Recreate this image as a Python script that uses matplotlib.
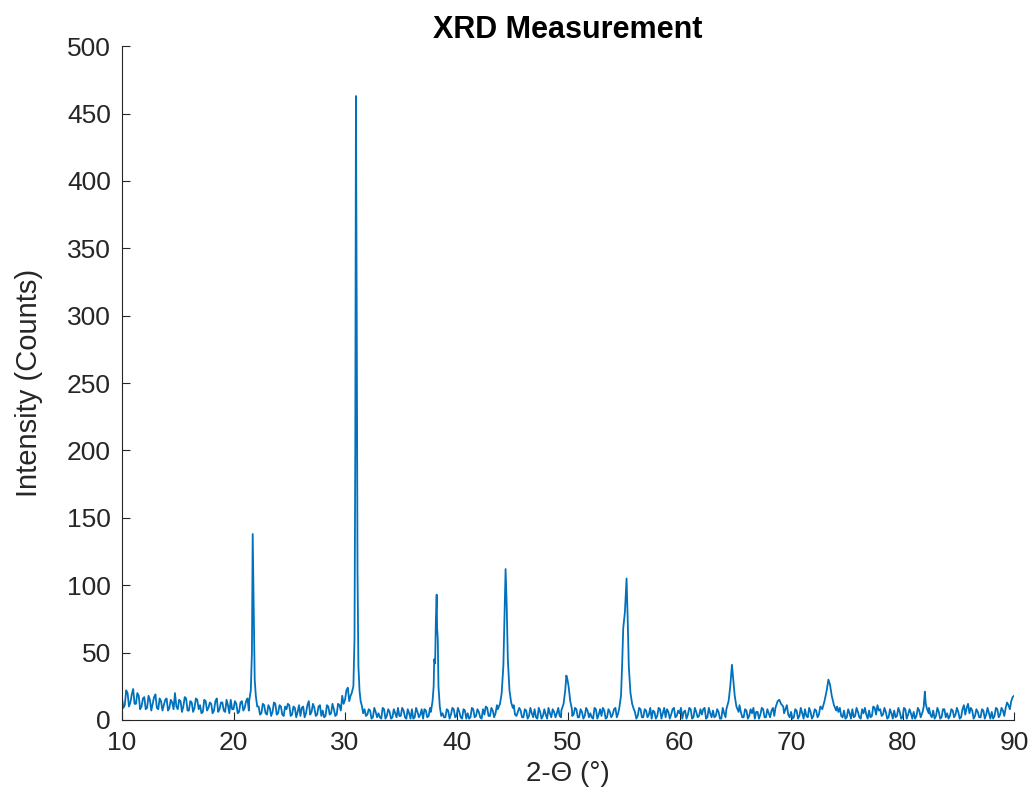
import numpy as np
import matplotlib
matplotlib.use("Agg")
import matplotlib.pyplot as plt

# ---- data ----
# background: values at 0.25 deg steps from 10.0 to 90.0 (hand-read, noisy band)
base_start = 10.0
base_step = 0.25
base_counts = [
    16, 11, 20, 13,   23, 12, 18, 10,   17, 9, 15, 12,   19, 8, 14, 11,   # 10-13
    16, 9, 13, 20,    8, 14, 10, 16,    7, 13, 9, 15,    11, 6, 14, 9,    # 14-17
    12, 7, 16, 8,     13, 6, 11, 15,    8, 12, 6, 14,    9, 16, 10, 12,   # 18-21
    13, 10, 5, 11,    4, 9, 6, 12,      5, 10, 3, 8,     11, 4, 9, 6,     # 22-25
    3, 10, 5, 14,     6, 9, 4, 11,      7, 3, 10, 5,     8, 4, 11, 18,    # 26-29
    15, 24, 18, 22,   20, 21, 11, 8,    4, 7, 2, 6,      5, 1, 8, 3,      # 30-33
    6, 2, 5, 9,       3, 7, 1, 5,       8, 2, 6, 4,      1, 7, 3, 5,      # 34-37
    6, 5, 7, 5,       2, 7, 4, 8,       3, 6, 1, 7,      5, 2, 8, 3,      # 38-41
    6, 1, 4, 9,       3, 7, 5, 10,      9, 10, 11, 8,    8, 4, 6, 7,      # 42-45
    2, 7, 3, 5,       8, 1, 6, 3,       4, 9, 2, 6,      5, 3, 8, 6,      # 46-49
    6, 7, 4, 8,       2, 6, 3, 7,       5, 1, 8, 4,      3, 7, 2, 6,      # 50-53
    4, 9, 5, 7,       8, 9, 10, 11,     6, 3, 8, 2,      7, 4, 1, 6,      # 54-57
    3, 8, 5, 2,       6, 4, 9, 3,       5, 1, 7, 4,      8, 2, 6, 3,      # 58-61
    4, 9, 2, 5,       7, 3, 6, 1,       5, 8, 7, 9,      10, 8, 6, 2,     # 62-65
    7, 3, 5, 1,       6, 4, 8, 2,       5, 7, 3, 10,     11, 10, 8, 4,    # 66-69
    6, 2, 7, 3,       5, 8, 2, 6,       3, 7, 4, 9,      10, 11, 12, 10,  # 70-73
    6, 6, 3, 7,       2, 5, 8, 3,       6, 1, 5, 4,      7, 3, 9, 11,     # 74-77
    8, 4, 6, 2,       5, 7, 3, 6,       2, 8, 4, 5,      6, 3, 7, 5,      # 78-81
    8, 9, 4, 7,       3, 6, 2, 8,       5, 3, 7, 4,      6, 2, 11, 9,     # 82-85
    5, 7, 3, 6,       2, 7, 4, 5,       6, 3, 8, 4,      7, 9, 11, 14,    # 86-89
    18,                                                                      # 90
]
# background: in-between samples at 10.125, 10.375, ... 89.875
mid_start = 10.125
mid_counts = [
    9, 22, 10, 19,    12, 20, 8, 16,    8, 18, 7, 17,    9, 16, 7, 15,    # 10-13
    7, 15, 8, 10,     15, 6, 17, 7,     14, 6, 16, 8,    5, 15, 7, 13,    # 14-17
    5, 14, 6, 13,     7, 15, 5, 8,      14, 5, 13, 7,    14, 7, 10, 10,   # 18-21
    10, 4, 12, 5,     11, 3, 13, 4,     11, 4, 10, 12,   3, 10, 2, 11,    # 22-25
    9, 2, 11, 4,      12, 3, 10, 3,     2, 11, 4, 12,    3, 12, 7, 12,    # 26-29
    22, 14, 25, 20,   10, 10, 5, 3,     8, 1, 9, 2,      2, 9, 1, 8,      # 30-33
    1, 8, 2, 3,       9, 2, 8, 1,       1, 9, 2, 8,      8, 2, 9, 10,     # 34-37
    10, 10, 3, 2,     8, 1, 9, 2,       9, 2, 8, 1,      1, 9, 2, 8,      # 38-41
    2, 8, 10, 3,      9, 2, 11, 10,     10, 10, 10, 10,  11, 3, 9, 2,     # 42-45
    8, 1, 9, 2,       2, 9, 1, 8,       1, 5, 8, 2,      9, 2, 10, 10,    # 46-49
    10, 3, 9, 2,      8, 1, 9, 2,       2, 9, 1, 8,      9, 1, 8, 2,      # 50-53
    8, 2, 10, 10,     10, 10, 10, 10,   1, 9, 2, 8,      2, 9, 7, 1,      # 54-57
    9, 1, 9, 8,       1, 8, 2, 7,       9, 6, 1, 9,      1, 9, 2, 8,      # 58-61
    8, 1, 9, 2,       2, 8, 1, 9,       2, 10, 10, 10,   10, 11, 2, 8,    # 62-65
    1, 8, 9, 6,       1, 9, 2, 8,       2, 9, 10, 10,    10, 5, 11, 2,    # 66-69
    1, 8, 1, 9,       1, 3, 9, 1,       8, 2, 10, 10,    10, 10, 10, 10,  # 70-73
    10, 9, 2, 1,      8, 1, 2, 9,       2, 8, 9, 1,      2, 10, 4, 7,     # 74-77
    3, 9, 1, 8,       1, 2, 9, 1,       9, 1, 8, 1,      1, 9, 2, 10,     # 78-81
    10, 9, 2, 1,      9, 1, 8, 2,       1, 8, 2, 9,      1, 8, 4, 12,     # 82-85
    9, 1, 8, 2,       8, 1, 9, 1,       1, 9, 2, 9,      3, 13, 8, 17,    # 86-89
]

# diffraction peaks: (2-theta, counts) profile points
peak_theta = [
    21.40, 21.55, 21.65, 21.72, 21.80, 21.90, 22.00, 22.10,
    30.60, 30.75, 30.85, 30.92, 30.98, 31.05, 31.12, 31.20, 31.30, 31.40,
    37.70, 37.85, 37.95, 38.00, 38.08, 38.15, 38.22, 38.26, 38.32, 38.38, 38.50,
    43.70, 43.90, 44.05, 44.20, 44.30, 44.40, 44.50, 44.60, 44.75, 44.90, 45.05,
    49.40, 49.60, 49.75, 49.85, 49.95, 50.05, 50.20, 50.35,
    54.60, 54.75, 54.85, 54.95, 55.10, 55.25, 55.35, 55.45, 55.60, 55.75, 55.90,
    64.20, 64.40, 64.55, 64.70, 64.80, 64.95, 65.10, 65.30,
    68.60, 68.80, 68.95, 69.10, 69.30,
    72.80, 73.00, 73.20, 73.35, 73.50, 73.65, 73.85, 74.05,
    81.80, 81.90, 82.00, 82.08, 82.20, 82.35,
]
peak_counts = [
    14, 22, 50, 138, 90, 30, 18, 12,
    20, 25, 60, 200, 463, 300, 110, 40, 22, 14,
    6, 14, 25, 45, 42, 75, 93, 68, 60, 25, 10,
    8, 12, 20, 40, 75, 112, 85, 45, 22, 13, 9,
    7, 12, 22, 33, 30, 25, 14, 8,
    9, 18, 40, 68, 80, 105, 75, 40, 20, 12, 8,
    8, 14, 25, 41, 32, 18, 10, 6,
    9, 14, 15, 12, 10,
    8, 14, 22, 30, 26, 18, 11, 7,
    6, 10, 21, 12, 8, 5,
]
peak_windows = [(21.40, 22.10), (30.60, 31.40), (37.70, 38.50), (43.70, 45.05),
                (49.40, 50.35), (54.60, 55.90), (64.20, 65.30), (68.60, 69.30),
                (72.80, 74.05), (81.80, 82.35)]

x_ticks = [10, 20, 30, 40, 50, 60, 70, 80, 90]
y_ticks = [0, 50, 100, 150, 200, 250, 300, 350, 400, 450, 500]

# ---- assemble the pattern ----
bt = np.concatenate([base_start + base_step * np.arange(len(base_counts)),
                     mid_start + base_step * np.arange(len(mid_counts))])
bc = np.array(base_counts + mid_counts, dtype=float)
keep = np.ones(len(bt), dtype=bool)
for a, b in peak_windows:
    keep &= ~((bt >= a) & (bt <= b))
theta = np.concatenate([bt[keep], np.array(peak_theta)])
counts = np.concatenate([bc[keep], np.array(peak_counts, dtype=float)])
order = np.argsort(theta)
theta, counts = theta[order], counts[order]

# ---- plot ----
plt.rcParams['font.family'] = ['Liberation Sans', 'DejaVu Sans']
fig = plt.figure(figsize=(10.34, 8.06), dpi=100)
ax = fig.add_axes([0.118, 0.1067, 0.8627, 0.836])
ax.plot(theta, counts, color='#0072BD', linewidth=1.3)

ax.set_xlim(10, 90)
ax.set_ylim(0, 500)
ax.set_xticks(x_ticks)
ax.set_yticks(y_ticks)
ink = '#262626'
for s in ['top', 'right']:
    ax.spines[s].set_visible(False)
for s in ['left', 'bottom']:
    ax.spines[s].set_color(ink)
    ax.spines[s].set_linewidth(0.8)
ax.tick_params(direction='in', length=6, width=0.8, colors=ink,
               labelsize=19, pad=8)
ax.set_xlabel('2-\u0398 (\u00b0)', fontsize=20, color=ink, labelpad=4)
ax.set_ylabel('Intensity (Counts)', fontsize=21, color=ink, labelpad=17)
ax.set_title('XRD Measurement', fontsize=22, fontweight='bold', color='black', pad=6)

fig.savefig('out.png', dpi=100)
